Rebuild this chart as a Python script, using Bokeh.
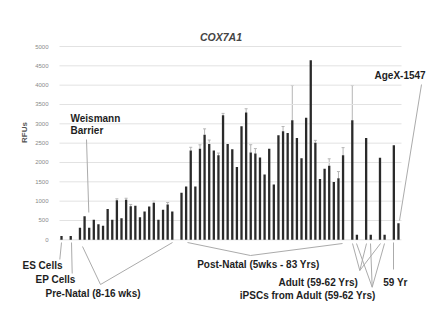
import numpy as np
from bokeh.plotting import figure
from bokeh.models import (Range1d, Label, Arrow, FixedTicker, Whisker, ColumnDataSource,
                          TeeHead, LinearAxis)
from bokeh.embed import file_html
from bokeh.resources import INLINE

# ---------------- data (RFUs) ----------------
es_cells = [100]
ep_cells = [100]
prenatal = [310, 610, 310, 520, 400, 365, 800, 520, 1020, 560, 1035, 865, 880,
            585, 735, 860, 960, 520, 780, 915, 735]
postnatal = [1217, 1380, 2313, 1380, 2357, 2720, 2480, 2313, 2184, 3220, 2480, 2340,
             1881, 2940, 3290, 2260, 2230, 2130, 1692, 2357, 1433, 2702, 2810, 2762,
             3090, 2635, 2110, 3160, 4645, 2513, 1570, 1839, 1915, 1492, 1595, 2184]
adult = [3090, 2632, 2124]
ipsc = [130, 130, 130]
yr59 = [2443]
agex = [430]

es_err = [0]
ep_err = [0]
prenatal_err = [0, 0, 0, 0, 0, 0, 0, 0, 40, 0, 40, 50, 0, 0, 0, 0, 40, 0, 0, 50, 0]
postnatal_err = [0, 0, 80, 0, 100, 150, 100, 0, 60, 50, 0, 0, 0, 0, 100, 200, 130, 0,
                 0, 0, 0, 0, 120, 0, 900, 0, 0, 0, 0, 60, 0, 0, 180, 0, 170, 200]
adult_err = [900, 0, 0]
ipsc_err = [0, 0, 0]
yr59_err = [0]
agex_err = [0]

y_ticks = [0, 500, 1000, 1500, 2000, 2500, 3000, 3500, 4000, 4500, 5000]

# ---------------- slot layout (groups separated by one empty slot) ----------------
xs, ys, errs = [], [], []
cursor = [0]


def add(vals, es):
    for v, e in zip(vals, es):
        xs.append(cursor[0]); ys.append(v); errs.append(e)
        cursor[0] += 1


def gap():
    cursor[0] += 1


add(es_cells, es_err); gap()
add(ep_cells, ep_err); gap()
add(prenatal, prenatal_err); gap()
add(postnatal, postnatal_err); gap()
for a, ae, b, be in zip(adult, adult_err, ipsc, ipsc_err):
    add([a], [ae]); add([b], [be]); gap()
add(yr59, yr59_err); add(agex, agex_err)

# ---------------- geometry: plot area pixels <-> data ----------------
W, H = 438, 316
PL, PR, PT, PB = 59, 401, 46, 240          # plot area edges in pixels
X0, X1 = -0.433, 73.66                      # data x at PL / PR
Y0, Y1 = -18, 5000                          # data y at PB / PT
kx = (PR - PL) / (X1 - X0)
ky = (PB - PT) / (Y1 - Y0)


def dx(px):
    return X0 + (px - PL) / kx


def dy(py):
    return Y0 + (PB - py) / ky


p = figure(width=W, height=H, output_backend="svg", toolbar_location=None,
           x_range=Range1d(dx(0), dx(W)), y_range=Range1d(dy(H), dy(0)),
           x_axis_location=None, y_axis_location=None,
           min_border=0)
p.outline_line_color = None
p.background_fill_color = "white"
p.border_fill_color = "white"
p.grid.visible = False

# horizontal gridlines across the plot area only
p.segment(x0=X0, x1=X1, y0=y_ticks, y1=y_ticks, line_color="#e2e2e2", line_width=1)

# y axis (tick labels only), pinned to the plot area's left edge
yax = LinearAxis(fixed_location=X0, ticker=FixedTicker(ticks=y_ticks))
yax.axis_line_color = None
yax.major_tick_line_color = None
yax.minor_tick_line_color = None
yax.major_label_text_font = "Liberation Sans"
yax.major_label_text_font_size = "6px"
yax.major_label_text_color = "#8a8a8a"
yax.major_label_standoff = 5
p.add_layout(yax, "left")

src = ColumnDataSource(dict(x=xs, top=ys))
p.vbar(x="x", top="top", bottom=0, width=0.5, source=src,
       fill_color="#2a2a2a", line_color=None)

ex = [x for x, e in zip(xs, errs) if e > 0]
ey = [y for y, e in zip(ys, errs) if e > 0]
eu = [y + e for y, e in zip(ys, errs) if e > 0]
esrc = ColumnDataSource(dict(x=ex, lower=ey, upper=eu))
p.add_layout(Whisker(base="x", lower="lower", upper="upper", source=esrc,
                     line_color="#b5b5b5", line_width=1,
                     upper_head=TeeHead(size=3, line_color="#b5b5b5", line_width=1),
                     lower_head=None))

FONT = "Liberation Sans"


def text(t, px, py, size="10px", style="bold", color="#1e1e1e", align="left", angle=0):
    p.add_layout(Label(x=dx(px), y=dy(py), text=t, text_font=FONT, text_font_size=size,
                       text_font_style=style, text_color=color, text_align=align,
                       text_baseline="middle", angle=angle))


def line(x1, y1, x2, y2):
    p.add_layout(Arrow(x_start=dx(x1), y_start=dy(y1), x_end=dx(x2), y_end=dy(y2),
                       end=None, line_color="#ababab", line_width=1))


# title and axis label
text("COX7A1", 220.5, 36, size="10.5px", style="bold italic", color="#444444", align="center")
text("RFUs", 24, 132, size="8px", style="bold", color="#555555", align="center", angle=np.pi / 2)

# annotations
text("Weismann", 70, 118)
text("Barrier", 70, 130)
line(86, 139, 88.3, 212)

text("AgeX-1547", 374, 75)
line(421, 84, 399, 220)

text("ES Cells", 22, 265)
line(59.3, 259, 61, 242)
text("EP Cells", 35, 279)
line(71.7, 273, 71, 242)
text("Pre-Natal (8-16 wks)", 45, 292.7)
line(100, 284, 82, 246)
line(100, 284, 172, 242)
text("Post-Natal (5wks - 83 Yrs)", 196.7, 264)
line(250, 255, 187, 242)
line(250, 255, 342, 243)
text("Adult (59-62 Yrs)", 278, 281.7)
for bx in (352, 366, 380):
    line(359.3, 270, bx, 243)
text("iPSCs from Adult (59-62 Yrs)", 239.3, 295)
for bx in (356, 370, 384):
    line(371.7, 286.7, bx, 243)
text("59 Yr", 382.7, 281.7)
line(393, 269, 393, 242)

open("out.html", "w").write(file_html(p, INLINE))
